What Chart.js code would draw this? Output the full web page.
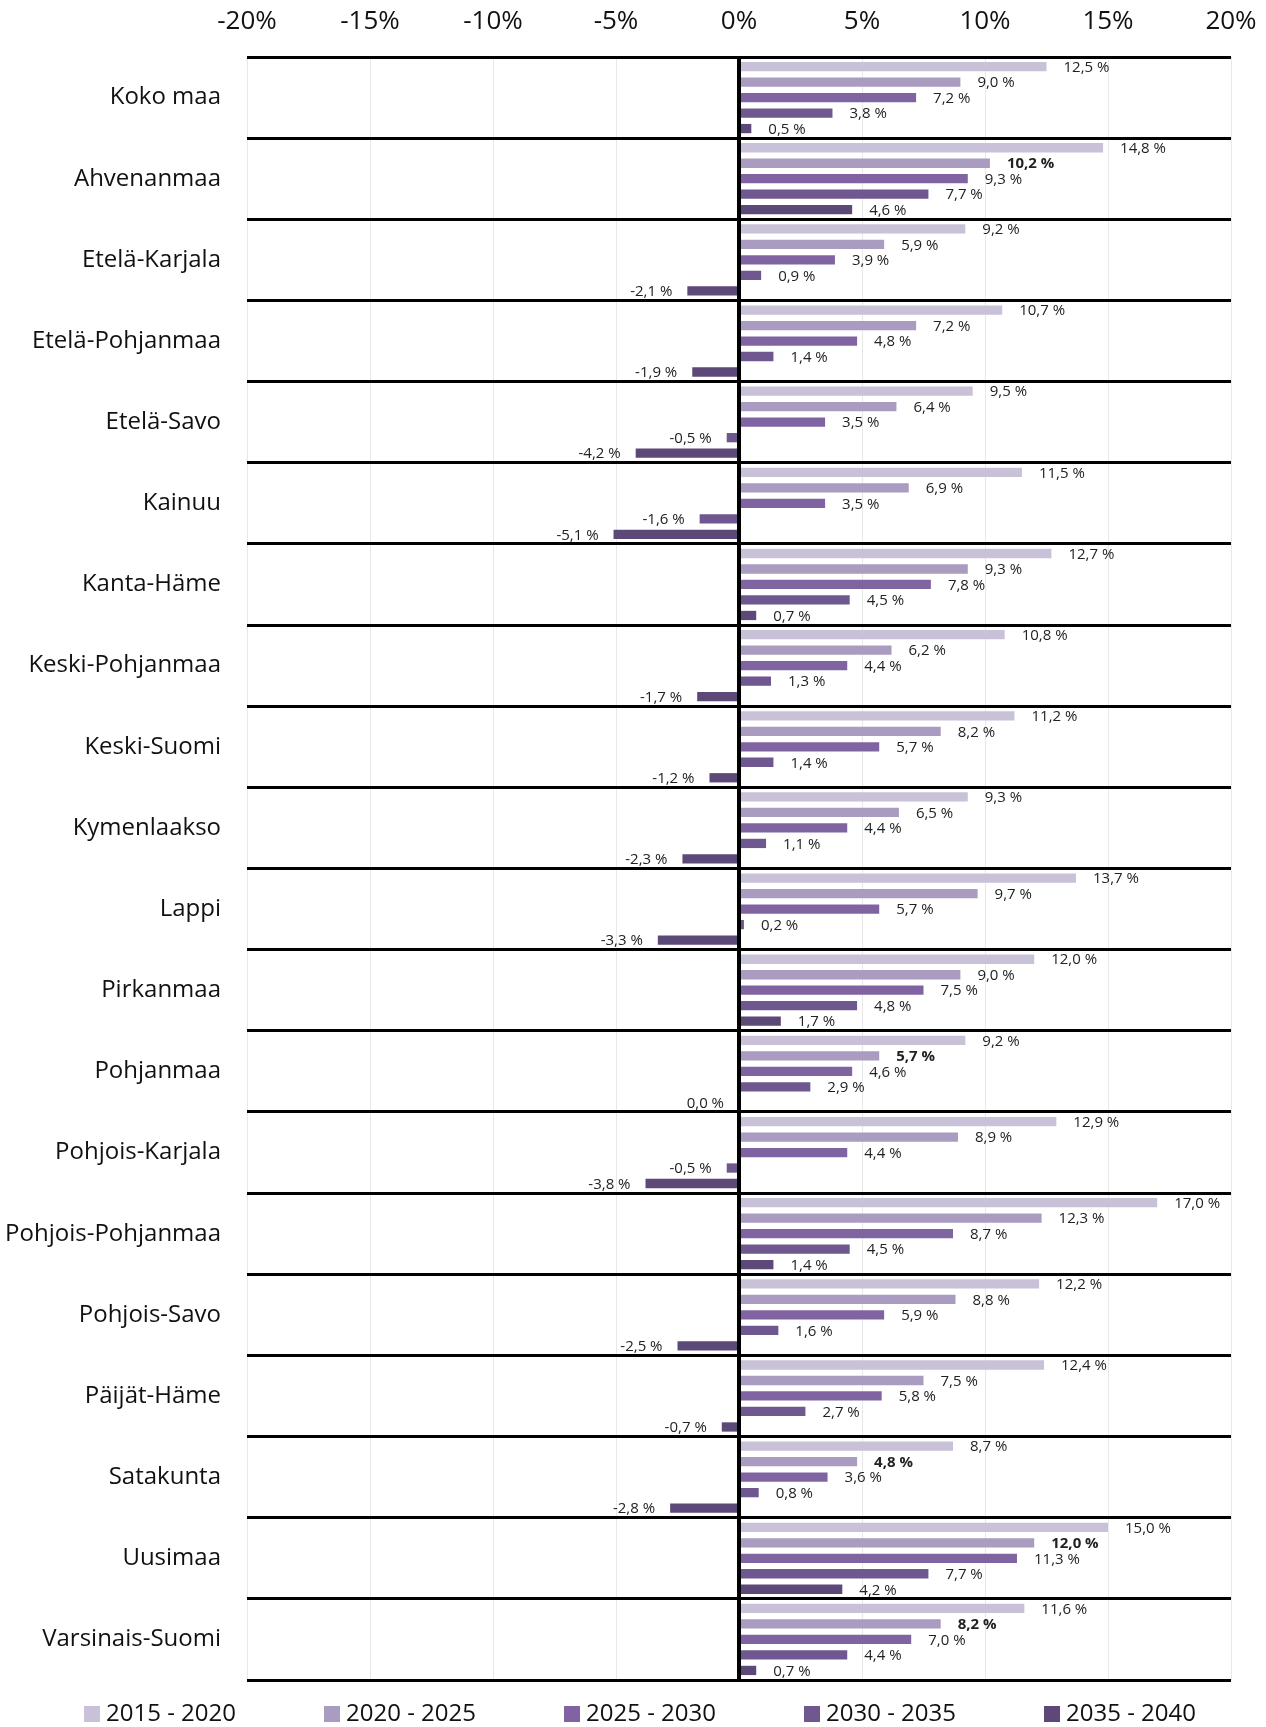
<!DOCTYPE html>
<html>
<head>
<meta charset="utf-8">
<script src="https://cdn.jsdelivr.net/npm/chart.js@4.4.1/dist/chart.umd.min.js"></script>
<style>
  html, body { margin: 0; padding: 0; background: #fff; }
  #chart { display: block; }
</style>
</head>
<body>
<canvas id="chart" width="1266" height="1727"></canvas>
<script>
  const REGIONS = [
    "Koko maa", "Ahvenanmaa", "Etelä-Karjala", "Etelä-Pohjanmaa", "Etelä-Savo",
    "Kainuu", "Kanta-Häme", "Keski-Pohjanmaa", "Keski-Suomi", "Kymenlaakso",
    "Lappi", "Pirkanmaa", "Pohjanmaa", "Pohjois-Karjala", "Pohjois-Pohjanmaa",
    "Pohjois-Savo", "Päijät-Häme", "Satakunta", "Uusimaa", "Varsinais-Suomi",
  ];

  const PERIODS = ["2015 - 2020", "2020 - 2025", "2025 - 2030", "2030 - 2035", "2035 - 2040"];

  const V_2015_2020 = [12.5, 14.8, 9.2, 10.7, 9.5, 11.5, 12.7, 10.8, 11.2, 9.3, 13.7, 12.0, 9.2, 12.9, 17.0, 12.2, 12.4, 8.7, 15.0, 11.6];
  const V_2020_2025 = [9.0, 10.2, 5.9, 7.2, 6.4, 6.9, 9.3, 6.2, 8.2, 6.5, 9.7, 9.0, 5.7, 8.9, 12.3, 8.8, 7.5, 4.8, 12.0, 8.2];
  const V_2025_2030 = [7.2, 9.3, 3.9, 4.8, 3.5, 3.5, 7.8, 4.4, 5.7, 4.4, 5.7, 7.5, 4.6, 4.4, 8.7, 5.9, 5.8, 3.6, 11.3, 7.0];
  const V_2030_2035 = [3.8, 7.7, 0.9, 1.4, -0.5, -1.6, 4.5, 1.3, 1.4, 1.1, 0.2, 4.8, 2.9, -0.5, 4.5, 1.6, 2.7, 0.8, 7.7, 4.4];
  const V_2035_2040 = [0.5, 4.6, -2.1, -1.9, -4.2, -5.1, 0.7, -1.7, -1.2, -2.3, -3.3, 1.7, 0.0, -3.8, 1.4, -2.5, -0.7, -2.8, 4.2, 0.7];

  const X_TICKS = [-20, -15, -10, -5, 0, 5, 10, 15, 20];

  const COLORS = ["#c9c1d8", "#aa9bc0", "#8064a2", "#6f5890", "#5d4977"];

  // labels shown in bold in the original (series index, region index)
  const BOLD = new Set(["1-1", "1-12", "1-17", "1-18", "1-19"]);

  const SERIES = [V_2015_2020, V_2020_2025, V_2025_2030, V_2030_2035, V_2035_2040];

  const fmt = (v) => v.toFixed(1).replace(".", ",") + " %";

  const valueLabels = {
    id: "valueLabels",
    afterDatasetsDraw(chart) {
      const ctx = chart.ctx;
      ctx.save();
      ctx.textBaseline = "middle";
      ctx.fillStyle = "#222";
      chart.data.datasets.forEach((ds, di) => {
        const meta = chart.getDatasetMeta(di);
        meta.data.forEach((bar, i) => {
          const v = ds.data[i];
          ctx.font = (BOLD.has(di + "-" + i) ? "bold " : "") + "15px 'Open Sans'";
          if (v > 0) {
            ctx.textAlign = "left";
            ctx.fillText(fmt(v), bar.x + 17, bar.y + 1);
          } else {
            ctx.textAlign = "right";
            ctx.fillText(fmt(v), bar.x - 15, bar.y + 1);
          }
        });
      });
      ctx.restore();
    },
  };

  const bottomLegend = {
    id: "bottomLegend",
    afterDraw(chart) {
      const ctx = chart.ctx;
      ctx.save();
      ctx.font = "24px 'Open Sans'";
      ctx.textBaseline = "middle";
      ctx.textAlign = "left";
      chart.data.datasets.forEach((ds, i) => {
        const x = 84 + i * 240;
        const y = 1714;
        ctx.fillStyle = ds.backgroundColor;
        ctx.fillRect(x, y - 8, 16, 16);
        ctx.fillStyle = "#111";
        ctx.fillText(ds.label, x + 22, y);
      });
      ctx.restore();
    },
  };

  new Chart(document.getElementById("chart"), {
    type: "bar",
    data: {
      labels: REGIONS,
      datasets: PERIODS.map((p, i) => ({
        label: p,
        data: SERIES[i],
        backgroundColor: COLORS[i],
        borderWidth: 0,
        categoryPercentage: 0.955,
        barPercentage: 0.6,
      })),
    },
    options: {
      indexAxis: "y",
      responsive: false,
      animation: false,
      devicePixelRatio: 1,
      layout: { padding: { top: 0, left: 0, right: 35, bottom: 47 } },
      plugins: {
        legend: { display: false },
        tooltip: { enabled: false },
      },
      scales: {
        x: {
          position: "top",
          min: -20,
          max: 20,
          afterBuildTicks: (s) => { s.ticks = X_TICKS.map((v) => ({ value: v })); },
          afterFit: (s) => {
            s.height = 57;
            s.paddingLeft = 0;
            s.paddingRight = 0;
          },
          border: { display: false },
          grid: {
            drawTicks: false,
            color: (c) => (c.tick && c.tick.value === 0 ? "#000" : "#e8e8e8"),
            lineWidth: (c) => (c.tick && c.tick.value === 0 ? 4 : 1),
          },
          ticks: {
            padding: 20,
            color: "#111",
            font: { family: "'Open Sans'", size: 26 },
            callback: (v) => v + "%",
          },
        },
        y: {
          afterFit: (s) => { s.width = 247; },
          border: { display: false },
          grid: {
            offset: true,
            drawTicks: false,
            color: "#000",
            lineWidth: 3,
          },
          ticks: {
            padding: 26,
            color: "#111",
            font: { family: "'Open Sans'", size: 24 },
          },
        },
      },
    },
    plugins: [valueLabels, bottomLegend],
  });
</script>
</body>
</html>
